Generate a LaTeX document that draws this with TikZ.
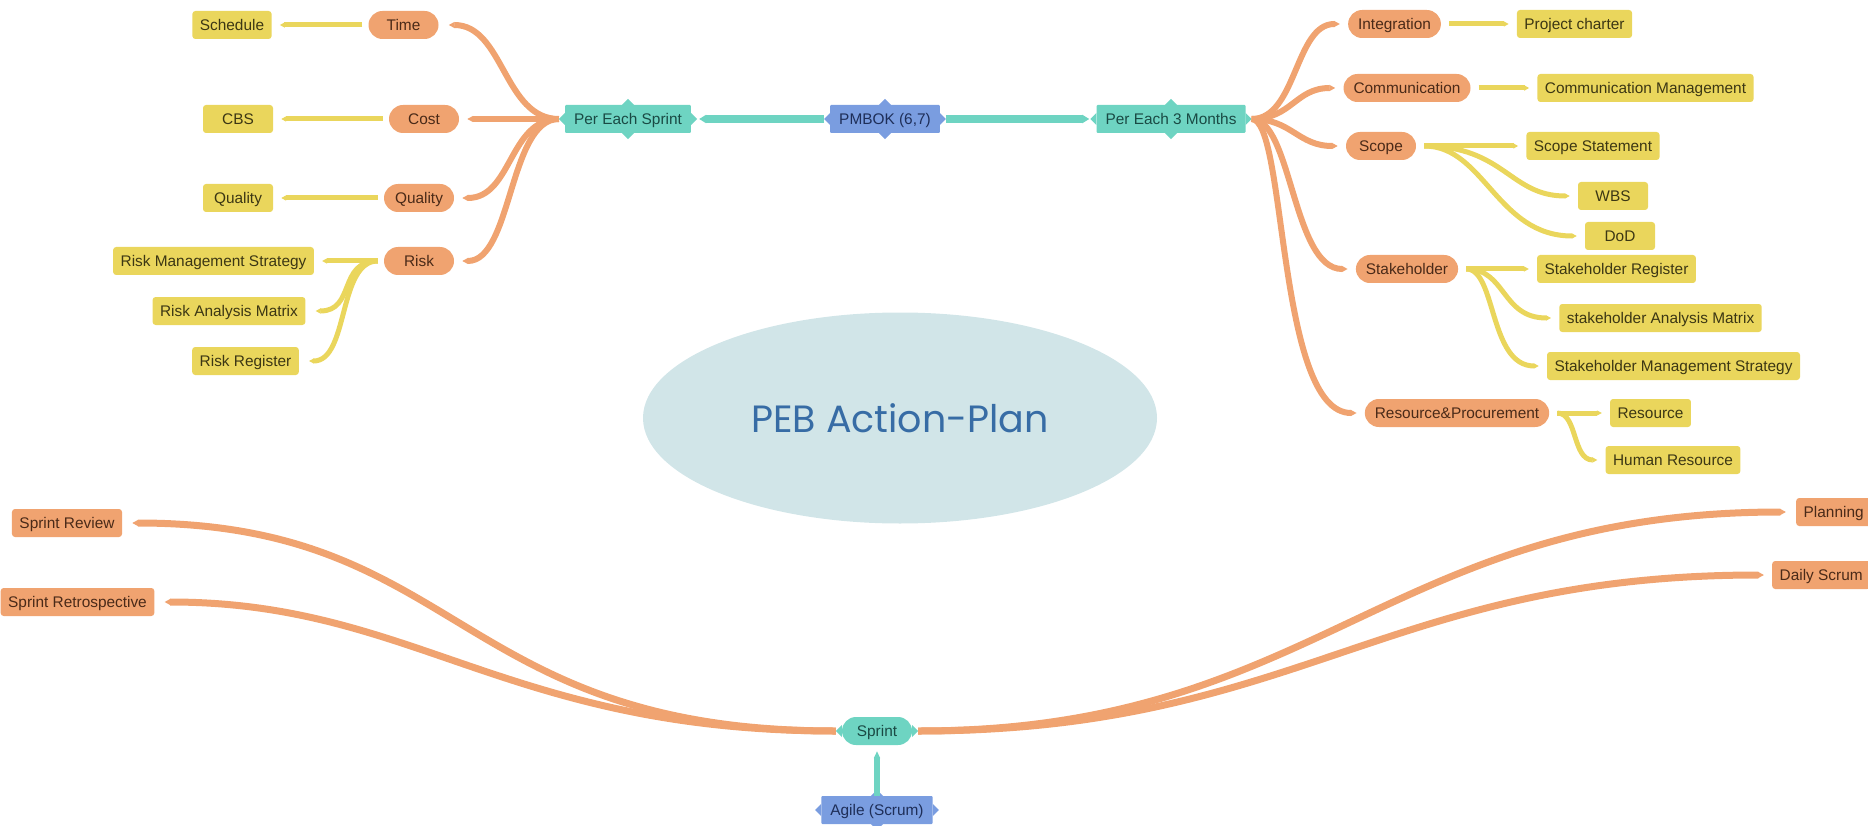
\documentclass[tikz,border=0pt]{standalone}
\usepackage{fontspec}
\setmainfont{Liberation Sans}
\newfontfamily\titlefont{Poppins}
\usetikzlibrary{shapes.geometric,arrows.meta}

\definecolor{orangec}{HTML}{F0A370}
\definecolor{oranget}{HTML}{4A2A18}
\definecolor{yellowc}{HTML}{EAD65C}
\definecolor{yellowt}{HTML}{3C3714}
\definecolor{tealc}{HTML}{6ED4C2}
\definecolor{tealt}{HTML}{1A4A44}
\definecolor{bluec}{HTML}{7A9DE0}
\definecolor{bluet}{HTML}{1E2E58}
\definecolor{corec}{HTML}{D1E5E8}
\definecolor{titlec}{HTML}{376CA5}

\begin{document}
\begin{tikzpicture}
[x=1pt,y=-1pt,
font=\fontsize{15.4}{18}\selectfont,
%
box/.style={shape=rectangle,minimum height=28pt,minimum width=70pt,inner xsep=7.5pt,inner ysep=0pt,
  text height=11pt,text depth=0pt,rounded corners=3pt},
leaf/.style={box,fill=yellowc,text=yellowt},
topic/.style={box,minimum width=0pt,fill=orangec,text=oranget},
pill/.style={topic,rounded corners=14pt,minimum width=70pt,inner xsep=10pt},
hub/.style={box,fill=tealc,text=tealt,rounded corners=1pt,inner xsep=9pt},
root/.style={hub,fill=bluec,text=bluet},
core/.style={shape=ellipse,fill=corec,minimum width=514pt,minimum height=211pt,inner sep=0pt,
  font=\titlefont\fontsize{38}{44}\selectfont,text=titlec},
%
branch/.style={draw=orangec,line width=6pt,-{Triangle[length=6pt,width=6pt]}},
twig/.style={draw=yellowc,line width=5pt,-{Triangle[length=5pt,width=5pt]}},
stem/.style={draw=tealc,line width=8pt,-{Triangle[length=7pt,width=8pt]}}]
%
\useasboundingbox (0,0) rectangle (1868,826);
%
%% centre
\node (core) [core] at (900,418) {PEB Action-Plan};
%
%% pmbok line
\node (pes) [hub] at (628,119) {Per Each Sprint};
\node (pmbok) [root] at (885,119) {PMBOK (6,7)};
\node (pe3) [hub] at (1171,119) {Per Each 3 Months};
%
%% per each sprint
\node (time) [pill] at (403.5,25) {Time};
\node (cost) [pill] at (424,119) {Cost};
\node (qual) [pill] at (419,198) {Quality};
\node (risk) [pill] at (419,261) {Risk};
\node (sched) [leaf] at (232,25) {Schedule};
\node (cbs) [leaf] at (238,119) {CBS};
\node (qualdoc) [leaf] at (238,198) {Quality};
\node (riskms) [leaf] at (213.5,261) {Risk Management Strategy};
\node (riskam) [leaf] at (229,311) {Risk Analysis Matrix};
\node (riskreg) [leaf] at (245.5,361) {Risk Register};
%
%% per each 3 months
\node (integ) [pill] at (1394.5,24) {Integration};
\node (comm) [pill] at (1407,88) {Communication};
\node (scope) [pill] at (1381,146) {Scope};
\node (stake) [pill] at (1407,269) {Stakeholder};
\node (rp) [pill] at (1457,413) {Resource\&Procurement};
\node (charter) [leaf] at (1574.5,24) {Project charter};
\node (commgt) [leaf] at (1645.5,88) {Communication Management};
\node (scopest) [leaf] at (1593,146) {Scope Statement};
\node (wbs) [leaf] at (1613,196) {WBS};
\node (dod) [leaf] at (1620,236) {DoD};
\node (streg) [leaf] at (1616.5,269) {Stakeholder Register};
\node (stam) [leaf] at (1660.5,318) {stakeholder Analysis Matrix};
\node (stms) [leaf] at (1673.5,366) {Stakeholder Management Strategy};
\node (res) [leaf] at (1650.5,413) {Resource};
\node (hres) [leaf] at (1673,460) {Human Resource};
%
%% scrum
\node (sprint) [pill,fill=tealc,text=tealt] at (877,731) {Sprint};
\node (agile) [root] at (877,810) {Agile (Scrum)};
\node (review) [topic] at (67,523) {Sprint Review};
\node (retro) [topic] at (77.5,602) {Sprint Retrospective};
\node (plan) [topic,anchor=west] at (1796,512) {Planning};
\node (daily) [topic,anchor=west] at (1772,575) {Daily Scrum};
%
%% spikes on the hubs
\foreach \n/\c in {pes/tealc,pmbok/bluec,pe3/tealc,agile/bluec}
{
\fill[\c] (\n.north) +(-6,0) -- +(0,-6) -- +(6,0) -- cycle;
\fill[\c] (\n.south) +(-6,0) -- +(0,6) -- +(6,0) -- cycle;
}
\foreach \n/\c in {pes/tealc,pmbok/bluec,pe3/tealc,agile/bluec,sprint/tealc}
{
\fill[\c] (\n.west) +(0,-6) -- +(-6,0) -- +(0,6) -- cycle;
\fill[\c] (\n.east) +(0,-6) -- +(6,0) -- +(0,6) -- cycle;
}
%
%% pmbok to hubs
\draw[stem] ([xshift=-6pt]pmbok.west) -- ([xshift=8pt]pes.east);
\draw[stem] ([xshift=6pt]pmbok.east) -- ([xshift=-7pt]pe3.west);
%
%% per each sprint branches
\draw[branch] ([xshift=-6pt]pes.west) .. controls +(-55,0) and +(55,0) .. ([xshift=10pt]time.east);
\draw[branch] ([xshift=-6pt]pes.west) -- ([xshift=8pt]cost.east);
\draw[branch] ([xshift=-6pt]pes.west) .. controls +(-50,0) and +(50,0) .. ([xshift=8pt]qual.east);
\draw[branch] ([xshift=-6pt]pes.west) .. controls +(-50,0) and +(50,0) .. ([xshift=8pt]risk.east);
%%
\draw[twig] ([xshift=-6pt]time.west) -- ([xshift=8pt]sched.east);
\draw[twig] ([xshift=-6pt]cost.west) -- ([xshift=8pt]cbs.east);
\draw[twig] ([xshift=-6pt]qual.west) -- ([xshift=8pt]qualdoc.east);
\draw[twig] ([xshift=-6pt]risk.west) -- ([xshift=8pt]riskms.east);
\draw[twig] ([xshift=-6pt]risk.west) .. controls +(-40,0) and +(40,0) .. ([xshift=10pt]riskam.east);
\draw[twig] ([xshift=-6pt]risk.west) .. controls +(-40,0) and +(40,0) .. ([xshift=10pt]riskreg.east);
%
%% per each 3 months branches
\draw[branch] ([xshift=6pt]pe3.east) .. controls +(45,0) and +(-45,0) .. ([xshift=-8pt]integ.west);
\draw[branch] ([xshift=6pt]pe3.east) .. controls +(40,0) and +(-40,0) .. ([xshift=-8pt]comm.west);
\draw[branch] ([xshift=6pt]pe3.east) .. controls +(40,0) and +(-40,0) .. ([xshift=-8pt]scope.west);
\draw[branch] ([xshift=6pt]pe3.east) .. controls +(40,0) and +(-55,0) .. ([xshift=-8pt]stake.west);
\draw[branch] ([xshift=6pt]pe3.east) .. controls +(35,0) and +(-80,0) .. ([xshift=-8pt]rp.west);
%%
\draw[twig] ([xshift=8pt]integ.east) -- ([xshift=-8pt]charter.west);
\draw[twig] ([xshift=8pt]comm.east) -- ([xshift=-8pt]commgt.west);
\draw[twig] ([xshift=8pt]scope.east) -- ([xshift=-8pt]scopest.west);
\draw[twig] ([xshift=8pt]scope.east) .. controls +(80,0) and +(-60,0) .. ([xshift=-8pt]wbs.west);
\draw[twig] ([xshift=8pt]scope.east) .. controls +(60,0) and +(-80,0) .. ([xshift=-8pt]dod.west);
\draw[twig] ([xshift=8pt]stake.east) -- ([xshift=-8pt]streg.west);
\draw[twig] ([xshift=8pt]stake.east) .. controls +(40,0) and +(-50,0) .. ([xshift=-8pt]stam.west);
\draw[twig] ([xshift=8pt]stake.east) .. controls +(30,0) and +(-50,0) .. ([xshift=-8pt]stms.west);
\draw[twig] ([xshift=8pt]rp.east) -- ([xshift=-8pt]res.west);
\draw[twig] ([xshift=8pt]rp.east) .. controls +(20,0) and +(-25,0) .. ([xshift=-8pt]hres.west);
%
%% sprint branches
\draw[branch,line width=7pt] ([xshift=-6pt]sprint.west) .. controls +(-380,0) and +(330,0) .. ([xshift=10pt]review.east);
\draw[branch,line width=7pt] ([xshift=-6pt]sprint.west) .. controls +(-330,0) and +(250,0) .. ([xshift=10pt]retro.east);
\draw[branch,line width=7pt] ([xshift=6pt]sprint.east) .. controls +(400,0) and +(-400,0) .. ([xshift=-10pt]plan.west);
\draw[branch,line width=7pt] ([xshift=6pt]sprint.east) .. controls +(380,0) and +(-380,0) .. ([xshift=-8pt]daily.west);
\draw[stem,line width=6pt,-{Triangle[length=7pt,width=6pt]}] (agile.north) -- ([yshift=-6pt]sprint.south);
\end{tikzpicture}
\end{document}
